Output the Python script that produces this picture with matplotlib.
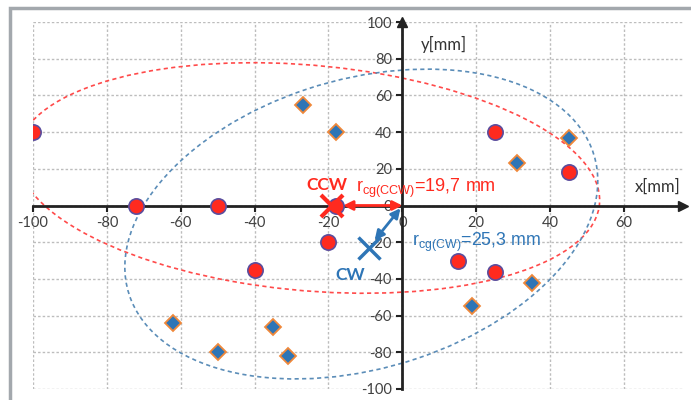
import numpy as np
import matplotlib.pyplot as plt
from matplotlib.patches import Ellipse, Rectangle

plt.rcParams['axes.unicode_minus'] = False

# measured centre-of-gravity points
ccw_x = [-100, -72, -50, -40, -20, -18, 15, 25, 25, 45]
ccw_y = [40, 0, 0, -35, -20, 0, -30, -36, 40, 18]
cw_x = [-27, -18, 45, 31, -62, -50, -35, -31, 19, 35]
cw_y = [55, 40, 37, 23, -64, -80, -66, -82, -55, -42]

# mean positions and spread ellipses (centre x, centre y, width, height, angle)
ccw_mean = (-19, 0)
cw_mean = (-9, -23)
ccw_ell = (-25.4, 15, 162, 120, -20)
cw_ell = (-11.1, -10.1, 176, 118, 67.6)

ticks_x = [-100, -80, -60, -40, -20, 0, 20, 40, 60]
ticks_y = [-100, -80, -60, -40, -20, 0, 20, 40, 60, 80, 100]

RED = '#ff2a1f'
BLUE = '#2e75b6'

fig = plt.figure(figsize=(6.91, 4.0), dpi=100)
# grey outer frame
fig.patches.append(Rectangle((10/691, -0.1), 1.2, (400-8)/400 + 0.1, transform=fig.transFigure,
                             fill=False, ec='#a3a8ad', lw=2.5))
ax = fig.add_axes([33/691, 11/400, 650/691, 367/400])
ax.set_xlim(-100, 76)
ax.set_ylim(-100, 100)

ax.set_xticks(ticks_x)
ax.set_yticks(ticks_y)
ax.grid(True, color='#bdbdbd', ls=(0, (1.8, 1.5)), lw=1)
ax.set_axisbelow(True)
for s in ['top', 'right']:
    ax.spines[s].set_visible(False)
for s in ['left', 'bottom']:
    ax.spines[s].set_position(('data', 0))
    ax.spines[s].set_linewidth(2)
    ax.spines[s].set_color('#222222')
ax.tick_params(direction='out', length=4, width=1.5, color='#222222',
               labelsize=10.5, labelcolor='#404040')
for lab in ax.get_xticklabels() + ax.get_yticklabels():
    lab.set_family('Lato')
ax.plot(1, 0, '>', color='#222222', ms=7, transform=ax.get_yaxis_transform(), clip_on=False)
ax.plot(0, 1, '^', color='#222222', ms=7, transform=ax.get_xaxis_transform(), clip_on=False)

# hand-drawn spread ellipses
ax.add_patch(Ellipse(ccw_ell[:2], ccw_ell[2], ccw_ell[3], angle=ccw_ell[4], fill=False,
                     ec='#ff4a4a', ls=(0, (2.5, 2)), lw=1.2))
ax.add_patch(Ellipse(cw_ell[:2], cw_ell[2], cw_ell[3], angle=cw_ell[4], fill=False,
                     ec='#5b8db8', ls=(0, (2.5, 2)), lw=1.2))

ax.plot(cw_x, cw_y, 'D', ms=8.5, mfc=BLUE, mec='#f0883a', mew=1.3, ls='none', zorder=4)
ax.plot(ccw_x, ccw_y, 'o', ms=11, mfc=RED, mec='#5a4d9e', mew=1.2, ls='none', zorder=4)

ax.plot(*ccw_mean, 'x', ms=16, mew=3, color=RED, zorder=5)
ax.plot(*cw_mean, 'x', ms=16, mew=2.5, color=BLUE, zorder=5)
ax.annotate('', xy=(0, 0), xytext=(-16, 0),
            arrowprops=dict(arrowstyle='<|-|>', color=RED, lw=2, mutation_scale=14,
                            shrinkA=0, shrinkB=0), zorder=6)
ax.annotate('', xy=(-0.5, -1.5), xytext=(-7.5, -19),
            arrowprops=dict(arrowstyle='<|-|>', color=BLUE, lw=2, mutation_scale=14,
                            shrinkA=0, shrinkB=0), zorder=6)

ax.text(-20.5, 11, 'CCW', color=RED, fontsize=12.5, family='Lato', fontweight='bold',
        ha='center', va='center')
ax.text(-14, -38, 'CW', color=BLUE, fontsize=12.5, family='Lato', fontweight='bold',
        ha='center', va='center')
ax.text(-12.5, 9.5, r'r$_{\mathregular{cg(CCW)}}$=19,7 mm', color=RED, fontsize=13,
        family='Liberation Sans', ha='left', va='center')
ax.text(2.5, -20, r'r$_{\mathregular{cg(CW)}}$=25,3 mm', color=BLUE, fontsize=12.8,
        family='Liberation Sans', ha='left', va='center')
ax.text(5, 88, 'y[mm]', color='#333333', fontsize=12, family='Lato', ha='left', va='center')
ax.text(63, 10, 'x[mm]', color='#333333', fontsize=12, family='Lato', ha='left', va='center')

fig.savefig('out.png', dpi=100)
